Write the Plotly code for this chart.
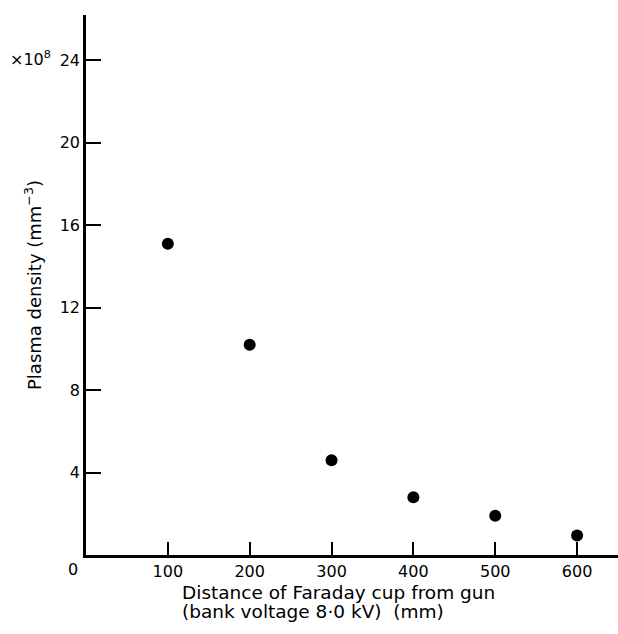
import plotly.graph_objects as go

distance_mm = [100, 200, 300, 400, 500, 600]
density_e8 = [15.1, 10.2, 4.6, 2.8, 1.9, 0.95]
x_ticks = [100, 200, 300, 400, 500, 600]
y_ticks = [4, 8, 12, 16, 20, 24]

FONT = "DejaVu Sans"
fig = go.Figure()
fig.add_trace(go.Scatter(
    x=distance_mm, y=density_e8, mode="markers",
    marker=dict(size=12, color="black"),
    showlegend=False, hoverinfo="x+y"))

fig.update_layout(
    width=618, height=634,
    margin=dict(l=86, r=0, t=15, b=79),
    paper_bgcolor="white", plot_bgcolor="white",
    font=dict(family=FONT, size=16, color="black"),
    xaxis=dict(range=[0, 650], tickvals=x_ticks, ticks="inside", ticklen=13,
               tickwidth=2, tickcolor="black", showline=True, linewidth=2.5,
               linecolor="black", showgrid=False, zeroline=False,
               tickfont=dict(size=16)),
    yaxis=dict(range=[0, 26.2], tickvals=y_ticks, ticks="inside", ticklen=15,
               tickwidth=2, tickcolor="black", showline=True, linewidth=2.5,
               linecolor="black", showgrid=False, zeroline=False,
               tickfont=dict(size=16)),
    annotations=[
        dict(text="0", x=0, y=0, xref="x", yref="paper", xanchor="center",
             yanchor="top", xshift=-13, yshift=-3, showarrow=False,
             font=dict(size=16)),
        dict(text="×10<sup>8</sup>", x=0, y=24, xref="paper", yref="y",
             xanchor="right", yanchor="middle", xshift=-33, yshift=2,
             showarrow=False, font=dict(size=16)),
        dict(text="Plasma density (mm<sup>−3</sup>)", x=0, y=0.5,
             xref="paper", yref="paper", xanchor="center", yanchor="middle",
             xshift=-53, textangle=-90, showarrow=False, font=dict(size=18)),
        dict(text="Distance of Faraday cup from gun",
             x=0.5, y=0, xref="paper", yref="paper", xanchor="left",
             yanchor="middle", xshift=-172, yshift=-37, showarrow=False,
             font=dict(size=18.5)),
        dict(text="(bank voltage 8·0 kV)  (mm)",
             x=0.5, y=0, xref="paper", yref="paper", xanchor="left",
             yanchor="middle", xshift=-172, yshift=-56, showarrow=False,
             font=dict(size=18.5)),
    ],
)

fig.write_html("out.html", config={"displayModeBar": False},
               post_script="document.body.style.margin='0';")
